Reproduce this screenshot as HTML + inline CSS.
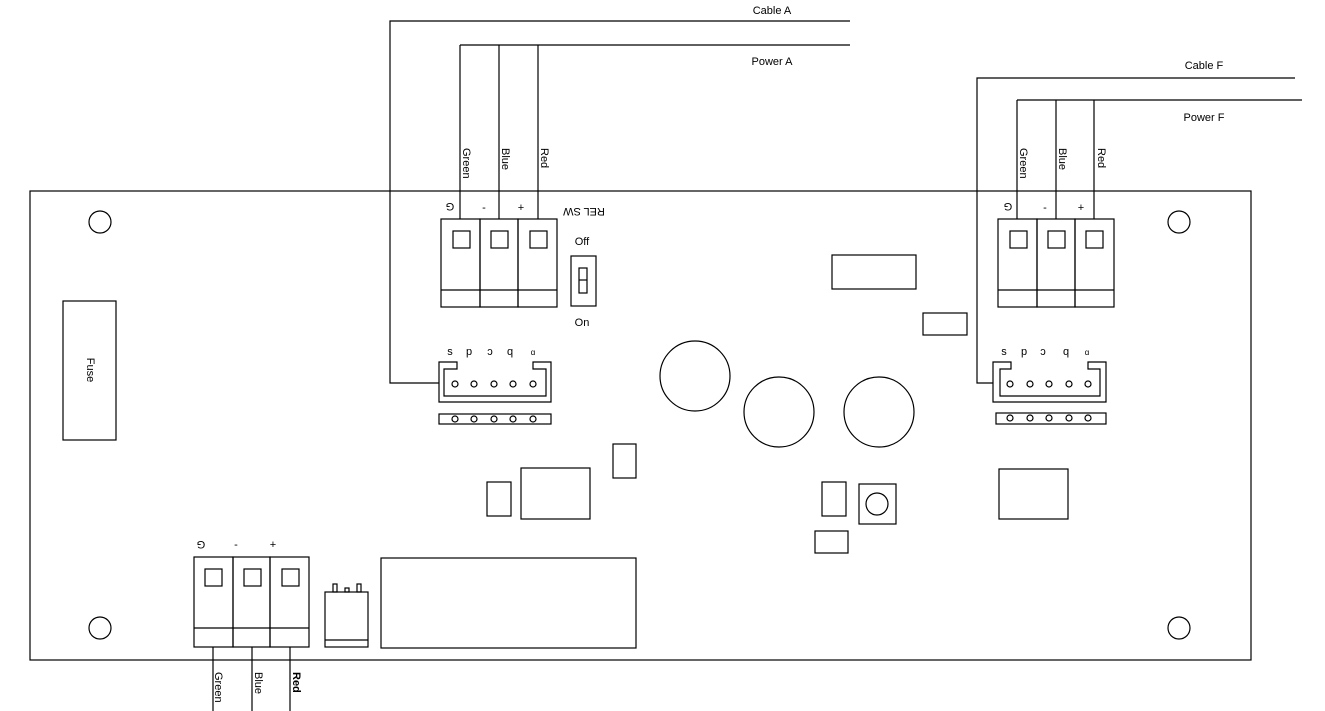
<!DOCTYPE html>
<html><head><style>body{margin:0;background:#fff}svg{display:block}text{font-family:"Liberation Sans",sans-serif;font-size:11px;fill:#000}</style></head><body>
<svg width="1325" height="711" viewBox="0 0 1325 711" fill="none" stroke="#000" stroke-width="1.2">
<rect x="30" y="191" width="1221" height="469"/>
<polyline points="850,21 390,21 390,383 439,383"/>
<line x1="460" y1="45" x2="850" y2="45"/>
<line x1="460" y1="45" x2="460" y2="219"/><line x1="499" y1="45" x2="499" y2="219"/><line x1="538" y1="45" x2="538" y2="219"/>
<g stroke="none">
<text x="772" y="14" text-anchor="middle">Cable A</text>
<text x="772" y="65" text-anchor="middle">Power A</text>
<text transform="translate(463,148) rotate(90)">Green</text>
<text transform="translate(502,148) rotate(90)">Blue</text>
<text transform="translate(541,148) rotate(90)">Red</text>
<text transform="translate(450,203) rotate(180)" text-anchor="middle">G</text>
<text x="484" y="211" text-anchor="middle">-</text>
<text x="521" y="211" text-anchor="middle">+</text>
<text transform="translate(584,208) rotate(180)" text-anchor="middle">REL SW</text>
<text x="582" y="245" text-anchor="middle">Off</text>
<text x="582" y="326" text-anchor="middle">On</text>
</g>
<rect x="441" y="219" width="39" height="88"/><rect x="480" y="219" width="38" height="88"/><rect x="518" y="219" width="39" height="88"/>
<line x1="441" y1="290" x2="557" y2="290"/>
<rect x="453" y="231" width="17" height="17"/><rect x="491" y="231" width="17" height="17"/><rect x="530" y="231" width="17" height="17"/>
<rect x="571" y="256" width="25" height="50"/><rect x="579" y="268" width="8" height="25"/><line x1="579" y1="280" x2="587" y2="280"/>
<path d="M439,362 H457 V369 H444 V396 H546 V369 H533 V362 H551 V402 H439 Z"/>
<g><circle cx="455" cy="384" r="3"/><circle cx="474" cy="384" r="3"/><circle cx="494" cy="384" r="3"/><circle cx="513" cy="384" r="3"/><circle cx="533" cy="384" r="3"/></g>
<rect x="439" y="414" width="112" height="10"/>
<g><circle cx="455" cy="419" r="3"/><circle cx="474" cy="419" r="3"/><circle cx="494" cy="419" r="3"/><circle cx="513" cy="419" r="3"/><circle cx="533" cy="419" r="3"/></g>
<g stroke="none"><text x="450" y="355" text-anchor="middle">s</text><text x="469" y="355" text-anchor="middle">p</text><text x="490" y="355" text-anchor="middle">ɔ</text><text x="510" y="355" text-anchor="middle">q</text><text x="533" y="355" text-anchor="middle" style="font-size:8px">ɑ</text></g>
<polyline points="1295,78 977,78 977,383 993,383"/>
<line x1="1017" y1="100" x2="1302" y2="100"/>
<line x1="1017" y1="100" x2="1017" y2="219"/><line x1="1056" y1="100" x2="1056" y2="219"/><line x1="1094" y1="100" x2="1094" y2="219"/>
<g stroke="none">
<text x="1204" y="69" text-anchor="middle">Cable F</text>
<text x="1204" y="121" text-anchor="middle">Power F</text>
<text transform="translate(1020,148) rotate(90)">Green</text>
<text transform="translate(1059,148) rotate(90)">Blue</text>
<text transform="translate(1098,148) rotate(90)">Red</text>
<text transform="translate(1008,203) rotate(180)" text-anchor="middle">G</text>
<text x="1045" y="211" text-anchor="middle">-</text>
<text x="1081" y="211" text-anchor="middle">+</text>
</g>
<rect x="998" y="219" width="39" height="88"/><rect x="1037" y="219" width="38" height="88"/><rect x="1075" y="219" width="39" height="88"/>
<line x1="998" y1="290" x2="1114" y2="290"/>
<rect x="1010" y="231" width="17" height="17"/><rect x="1048" y="231" width="17" height="17"/><rect x="1086" y="231" width="17" height="17"/>
<path d="M993,362 H1011 V369 H1000 V396 H1100 V369 H1088 V362 H1106 V402 H993 Z"/>
<g><circle cx="1010" cy="384" r="3"/><circle cx="1030" cy="384" r="3"/><circle cx="1049" cy="384" r="3"/><circle cx="1069" cy="384" r="3"/><circle cx="1088" cy="384" r="3"/></g>
<rect x="996" y="413" width="110" height="11"/>
<g><circle cx="1010" cy="418" r="3"/><circle cx="1030" cy="418" r="3"/><circle cx="1049" cy="418" r="3"/><circle cx="1069" cy="418" r="3"/><circle cx="1088" cy="418" r="3"/></g>
<g stroke="none"><text x="1004" y="355" text-anchor="middle">s</text><text x="1024" y="355" text-anchor="middle">p</text><text x="1043" y="355" text-anchor="middle">ɔ</text><text x="1066" y="355" text-anchor="middle">q</text><text x="1087" y="355" text-anchor="middle" style="font-size:8px">ɑ</text></g>
<circle cx="100" cy="222" r="11"/><circle cx="1179" cy="222" r="11"/><circle cx="100" cy="628" r="11"/><circle cx="1179" cy="628" r="11"/>
<rect x="63" y="301" width="53" height="139"/>
<text transform="translate(87,370) rotate(90)" text-anchor="middle" stroke="none">Fuse</text>
<circle cx="695" cy="376" r="35"/><circle cx="779" cy="412" r="35"/><circle cx="879" cy="412" r="35"/>
<rect x="832" y="255" width="84" height="34"/>
<rect x="923" y="313" width="44" height="22"/>
<rect x="613" y="444" width="23" height="34"/>
<rect x="487" y="482" width="24" height="34"/>
<rect x="521" y="468" width="69" height="51"/>
<rect x="822" y="482" width="24" height="34"/>
<rect x="859" y="484" width="37" height="40"/><circle cx="877" cy="504" r="11"/>
<rect x="815" y="531" width="33" height="22"/>
<rect x="999" y="469" width="69" height="50"/>
<rect x="381" y="558" width="255" height="90"/>
<rect x="194" y="557" width="39" height="90"/><rect x="233" y="557" width="37" height="90"/><rect x="270" y="557" width="39" height="90"/>
<line x1="194" y1="628" x2="309" y2="628"/>
<rect x="205" y="569" width="17" height="17"/><rect x="244" y="569" width="17" height="17"/><rect x="282" y="569" width="17" height="17"/>
<line x1="213" y1="647" x2="213" y2="711"/><line x1="252" y1="647" x2="252" y2="711"/><line x1="290" y1="647" x2="290" y2="711"/>
<g stroke="none">
<text transform="translate(201,541) rotate(180)" text-anchor="middle">G</text>
<text x="236" y="548" text-anchor="middle">-</text>
<text x="273" y="548" text-anchor="middle">+</text>
<text transform="translate(215,672) rotate(90)">Green</text>
<text transform="translate(255,672) rotate(90)">Blue</text>
<text transform="translate(293,672) rotate(90)" style="font-weight:bold">Red</text>
</g>
<rect x="325" y="592" width="43" height="55"/><line x1="325" y1="640" x2="368" y2="640"/>
<rect x="333" y="584" width="4" height="8"/><rect x="345" y="588" width="4" height="4"/><rect x="357" y="584" width="4" height="8"/>
</svg>
</body></html>
